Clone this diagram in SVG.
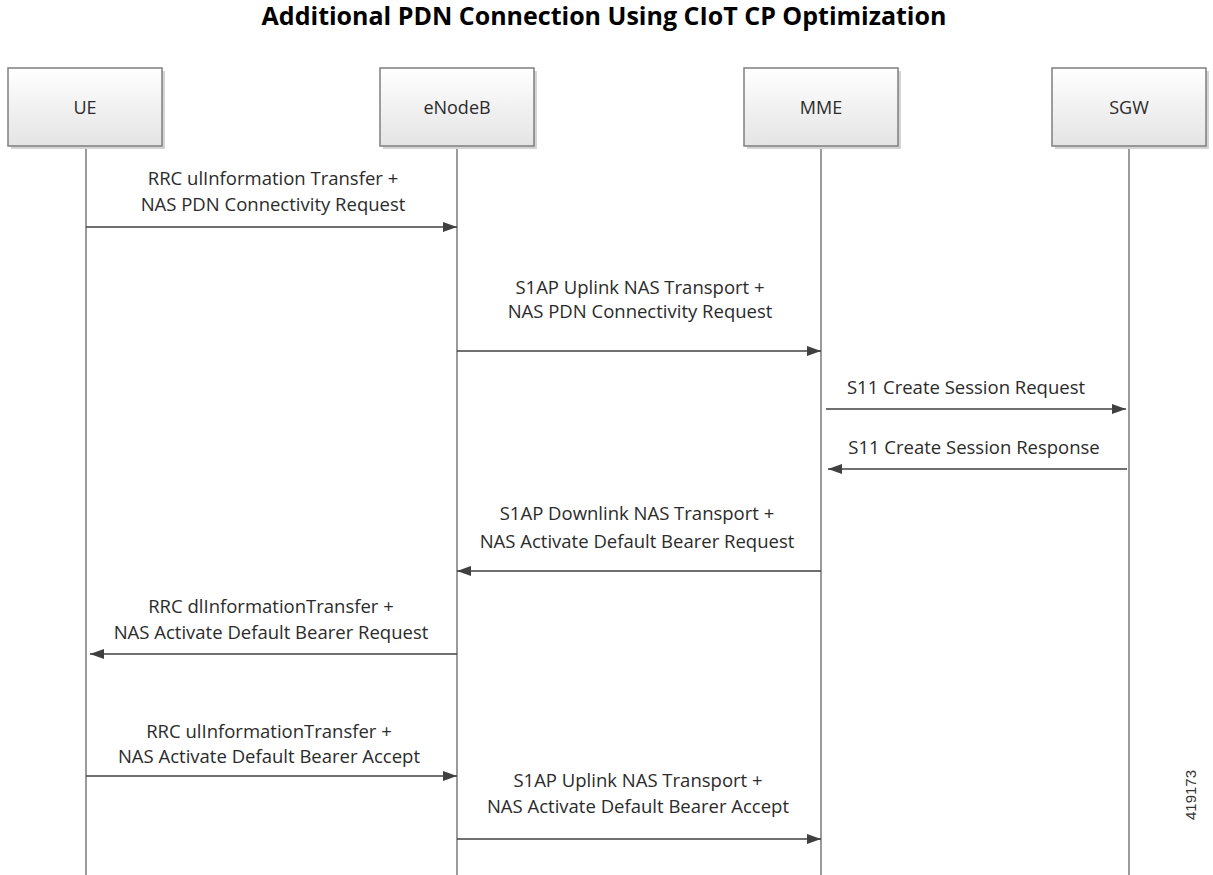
<svg xmlns="http://www.w3.org/2000/svg" width="1213" height="875" viewBox="0 0 1213 875">
<defs>
<linearGradient id="boxg" x1="0" y1="0" x2="0" y2="1">
<stop offset="0" stop-color="#ffffff"/>
<stop offset="1" stop-color="#e4e4e4"/>
</linearGradient>
<marker id="ah" viewBox="0 0 14 10" refX="14" refY="5" markerWidth="14" markerHeight="10" markerUnits="userSpaceOnUse" orient="auto">
<path d="M0,0 L14,5 L0,10 Z" fill="#404040"/>
</marker>
</defs>
<style>
.box{fill:url(#boxg);stroke:#7f7f7f;stroke-width:1.5}
.shadow{fill:#d4d4d4}
.life{stroke:#7a7a7a;stroke-width:1.5}
.msg{stroke:#404040;stroke-width:1.5;fill:none;marker-end:url(#ah)}
.lbl{font-family:"Open Sans","Liberation Sans",sans-serif;font-size:18.5px;fill:#2b2b2b;text-anchor:middle}
.nlbl{font-family:"Open Sans","Liberation Sans",sans-serif;font-size:18px;fill:#2b2b2b;text-anchor:middle}
.title{font-family:"Open Sans","Liberation Sans",sans-serif;font-size:25px;font-weight:bold;fill:#000;text-anchor:middle}
</style>
<rect width="1213" height="875" fill="#ffffff"/>
<text class="title" x="604" y="25">Additional PDN Connection Using CIoT CP Optimization</text>
<g id="lifelines">
<line class="life" x1="86" y1="146" x2="86" y2="875"/>
<line class="life" x1="457" y1="146" x2="457" y2="875"/>
<line class="life" x1="821" y1="146" x2="821" y2="875"/>
<line class="life" x1="1129" y1="146" x2="1129" y2="875"/>
</g>
<g id="node-ue">
<rect class="shadow" x="11" y="71" width="154" height="78"/>
<rect class="box" x="8" y="68" width="154" height="78"/>
<text class="nlbl" x="85" y="114">UE</text>
</g>
<g id="node-enodeb">
<rect class="shadow" x="383" y="71" width="154" height="78"/>
<rect class="box" x="380" y="68" width="154" height="78"/>
<text class="nlbl" x="457" y="114">eNodeB</text>
</g>
<g id="node-mme">
<rect class="shadow" x="747" y="71" width="154" height="78"/>
<rect class="box" x="744" y="68" width="154" height="78"/>
<text class="nlbl" x="821" y="114">MME</text>
</g>
<g id="node-sgw">
<rect class="shadow" x="1055" y="71" width="154" height="78"/>
<rect class="box" x="1052" y="68" width="154" height="78"/>
<text class="nlbl" x="1129" y="114">SGW</text>
</g>
<g id="connectors">
<line class="msg" x1="86" y1="227" x2="457" y2="227"/>
<line class="msg" x1="457" y1="351" x2="821" y2="351"/>
<line class="msg" x1="826" y1="409" x2="1126" y2="409"/>
<line class="msg" x1="1127" y1="469" x2="828" y2="469"/>
<line class="msg" x1="821" y1="571" x2="457" y2="571"/>
<line class="msg" x1="457" y1="654" x2="90" y2="654"/>
<line class="msg" x1="86" y1="776" x2="457" y2="776"/>
<line class="msg" x1="457" y1="839" x2="821" y2="839"/>
</g>
<g id="labels">
<text class="lbl" x="273" y="185">RRC ulInformation Transfer +</text>
<text class="lbl" x="273" y="211">NAS PDN Connectivity Request</text>
<text class="lbl" x="640" y="294">S1AP Uplink NAS Transport +</text>
<text class="lbl" x="640" y="318">NAS PDN Connectivity Request</text>
<text class="lbl" x="966" y="394">S11 Create Session Request</text>
<text class="lbl" x="974" y="454">S11 Create Session Response</text>
<text class="lbl" x="637" y="520">S1AP Downlink NAS Transport +</text>
<text class="lbl" x="637" y="548">NAS Activate Default Bearer Request</text>
<text class="lbl" x="271" y="613">RRC dlInformationTransfer +</text>
<text class="lbl" x="271" y="639">NAS Activate Default Bearer Request</text>
<text class="lbl" x="269" y="738">RRC ulInformationTransfer +</text>
<text class="lbl" x="269" y="763">NAS Activate Default Bearer Accept</text>
<text class="lbl" x="638" y="787">S1AP Uplink NAS Transport +</text>
<text class="lbl" x="638" y="813">NAS Activate Default Bearer Accept</text>
</g>
<text x="1196" y="795" transform="rotate(-90 1196 795)" font-family="Liberation Sans, sans-serif" font-size="15" fill="#333" text-anchor="middle">419173</text>
</svg>
